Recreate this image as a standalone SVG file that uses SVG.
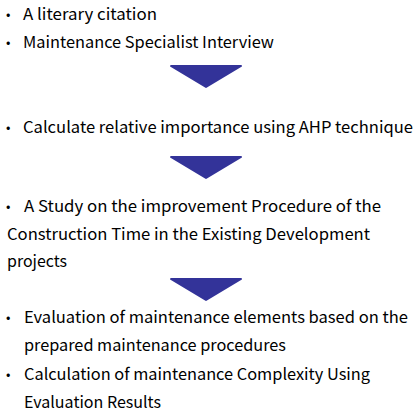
<svg xmlns="http://www.w3.org/2000/svg" width="415" height="414" viewBox="0 0 415 414">
<style>
text{font-family:"Noto Sans CJK KR","Malgun Gothic","Liberation Sans",sans-serif;font-size:16px;fill:#000}
.b{font-size:13px}
.arr{fill:#333399;stroke:#333399;stroke-width:2;stroke-linejoin:round}
</style>
<rect width="415" height="414" fill="#fff"/>
<g id="step1">
<text class="b" x="6" y="19">•</text><text x="23" y="20" textLength="134" lengthAdjust="spacingAndGlyphs">A literary citation</text>
<text class="b" x="6" y="47">•</text><text x="23" y="48" textLength="251" lengthAdjust="spacingAndGlyphs">Maintenance Specialist Interview</text>
</g>
<g id="step2">
<text class="b" x="6" y="132">•</text><text x="23" y="133" textLength="390" lengthAdjust="spacingAndGlyphs">Calculate relative importance using AHP technique</text>
</g>
<g id="step3">
<text class="b" x="6" y="211">•</text><text x="24" y="212" textLength="357" lengthAdjust="spacingAndGlyphs">A Study on the improvement Procedure of the</text>
<text x="7" y="240" textLength="363" lengthAdjust="spacingAndGlyphs">Construction Time in the Existing Development</text>
<text x="7" y="267" textLength="60" lengthAdjust="spacingAndGlyphs">projects</text>
</g>
<g id="step4">
<text class="b" x="6" y="322">•</text><text x="24" y="323" textLength="384" lengthAdjust="spacingAndGlyphs">Evaluation of maintenance elements based on the</text>
<text x="24" y="351" textLength="262" lengthAdjust="spacingAndGlyphs">prepared maintenance procedures</text>
<text class="b" x="6" y="379">•</text><text x="24" y="380" textLength="346" lengthAdjust="spacingAndGlyphs">Calculation of maintenance Complexity Using</text>
<text x="24" y="408" textLength="137" lengthAdjust="spacingAndGlyphs">Evaluation Results</text>
</g>
<g id="connectors">
<polygon class="arr" points="171,66 241,66 206,87"/>
<polygon class="arr" points="171,157 241,157 206,178"/>
<polygon class="arr" points="171,279 241,279 206,300"/>
</g>
</svg>
